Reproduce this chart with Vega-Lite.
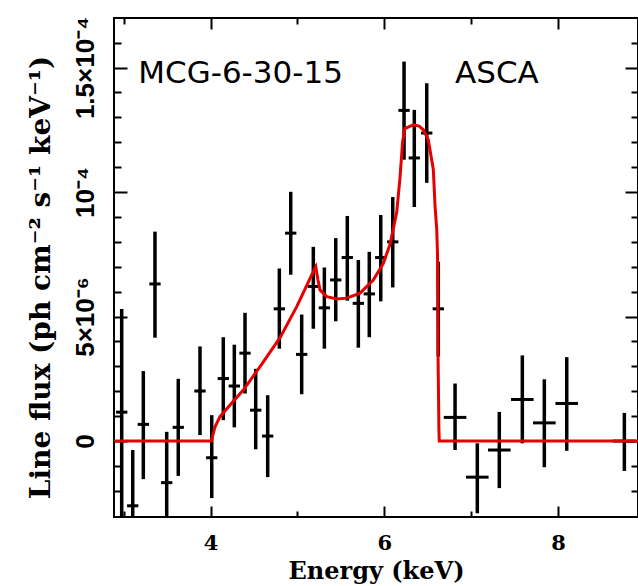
{
  "$schema": "https://vega.github.io/schema/vega-lite/v6.json",
  "width": 524,
  "height": 499,
  "autosize": {"type": "none"},
  "padding": {"left": 114, "top": 18, "right": 0, "bottom": 69},
  "background": "white",
  "config": {
    "view": {"stroke": "black", "strokeWidth": 2},
    "axis": {"grid": false, "domain": false, "tickColor": "black", "tickWidth": 2, "labelColor": "black", "titleColor": "black"}
  },
  "datasets": {
    "pts": [
      {"E": 2.978, "Elo": 2.913, "Ehi": 3.043, "flux": 1.16e-5, "lo": -3.6e-5, "hi": 5.3e-5},
      {"E": 3.105, "Elo": 3.04, "Ehi": 3.17, "flux": -2.6e-5, "lo": -4.9e-5, "hi": -0.36e-5},
      {"E": 3.227, "Elo": 3.162, "Ehi": 3.292, "flux": 0.67e-5, "lo": -1.53e-5, "hi": 2.81e-5},
      {"E": 3.361, "Elo": 3.296, "Ehi": 3.426, "flux": 6.31e-5, "lo": 4.15e-5, "hi": 8.41e-5},
      {"E": 3.496, "Elo": 3.431, "Ehi": 3.561, "flux": -1.67e-5, "lo": -3.7e-5, "hi": 0.37e-5},
      {"E": 3.629, "Elo": 3.564, "Ehi": 3.694, "flux": 0.55e-5, "lo": -1.4e-5, "hi": 2.5e-5},
      {"E": 3.879, "Elo": 3.814, "Ehi": 3.944, "flux": 2.01e-5, "lo": 0.24e-5, "hi": 3.8e-5},
      {"E": 4.014, "Elo": 3.949, "Ehi": 4.079, "flux": -0.67e-5, "lo": -2.29e-5, "hi": 1.04e-5},
      {"E": 4.147, "Elo": 4.082, "Ehi": 4.212, "flux": 2.51e-5, "lo": 0.84e-5, "hi": 4.17e-5},
      {"E": 4.274, "Elo": 4.209, "Ehi": 4.339, "flux": 2.21e-5, "lo": 0.55e-5, "hi": 3.87e-5},
      {"E": 4.397, "Elo": 4.332, "Ehi": 4.462, "flux": 3.53e-5, "lo": 1.91e-5, "hi": 5.15e-5},
      {"E": 4.52, "Elo": 4.455, "Ehi": 4.585, "flux": 1.24e-5, "lo": -0.33e-5, "hi": 2.9e-5},
      {"E": 4.658, "Elo": 4.593, "Ehi": 4.723, "flux": 0.2e-5, "lo": -1.45e-5, "hi": 1.84e-5},
      {"E": 4.792, "Elo": 4.727, "Ehi": 4.857, "flux": 5.31e-5, "lo": 3.71e-5, "hi": 6.93e-5},
      {"E": 4.923, "Elo": 4.858, "Ehi": 4.988, "flux": 8.35e-5, "lo": 6.68e-5, "hi": 10.01e-5},
      {"E": 5.049, "Elo": 4.984, "Ehi": 5.114, "flux": 3.48e-5, "lo": 1.88e-5, "hi": 5.08e-5},
      {"E": 5.183, "Elo": 5.118, "Ehi": 5.248, "flux": 6.21e-5, "lo": 4.51e-5, "hi": 7.8e-5},
      {"E": 5.31, "Elo": 5.245, "Ehi": 5.375, "flux": 5.35e-5, "lo": 3.71e-5, "hi": 6.97e-5},
      {"E": 5.441, "Elo": 5.376, "Ehi": 5.506, "flux": 6.47e-5, "lo": 4.81e-5, "hi": 8.15e-5},
      {"E": 5.574, "Elo": 5.509, "Ehi": 5.639, "flux": 7.37e-5, "lo": 5.64e-5, "hi": 9.04e-5},
      {"E": 5.701, "Elo": 5.636, "Ehi": 5.766, "flux": 5.53e-5, "lo": 3.75e-5, "hi": 7.27e-5},
      {"E": 5.827, "Elo": 5.762, "Ehi": 5.892, "flux": 5.91e-5, "lo": 4.17e-5, "hi": 7.6e-5},
      {"E": 5.959, "Elo": 5.894, "Ehi": 6.024, "flux": 7.37e-5, "lo": 5.61e-5, "hi": 9.08e-5},
      {"E": 6.097, "Elo": 6.032, "Ehi": 6.162, "flux": 8.0e-5, "lo": 6.17e-5, "hi": 9.8e-5},
      {"E": 6.227, "Elo": 6.162, "Ehi": 6.292, "flux": 1.328e-4, "lo": 1.13e-4, "hi": 1.524e-4},
      {"E": 6.345, "Elo": 6.28, "Ehi": 6.41, "flux": 1.137e-4, "lo": 9.4e-5, "hi": 1.33e-4},
      {"E": 6.488, "Elo": 6.423, "Ehi": 6.553, "flux": 1.237e-4, "lo": 1.037e-4, "hi": 1.437e-4},
      {"E": 6.621, "Elo": 6.556, "Ehi": 6.686, "flux": 5.31e-5, "lo": 3.4e-5, "hi": 7.2e-5},
      {"E": 6.814, "Elo": 6.684, "Ehi": 6.944, "flux": 0.95e-5, "lo": -0.36e-5, "hi": 2.31e-5},
      {"E": 7.07, "Elo": 6.94, "Ehi": 7.2, "flux": -1.45e-5, "lo": -2.9e-5, "hi": -0.09e-5},
      {"E": 7.323, "Elo": 7.193, "Ehi": 7.453, "flux": -0.36e-5, "lo": -1.89e-5, "hi": 1.17e-5},
      {"E": 7.588, "Elo": 7.458, "Ehi": 7.718, "flux": 1.67e-5, "lo": -0.09e-5, "hi": 3.44e-5},
      {"E": 7.841, "Elo": 7.711, "Ehi": 7.971, "flux": 0.73e-5, "lo": -1.05e-5, "hi": 2.48e-5},
      {"E": 8.099, "Elo": 7.969, "Ehi": 8.229, "flux": 1.51e-5, "lo": -0.39e-5, "hi": 3.37e-5},
      {"E": 8.762, "Elo": 8.632, "Ehi": 8.892, "flux": 0, "lo": -1.2e-5, "hi": 1.13e-5}
    ],
    "model": [
      {"E": 2.85, "flux": 0},
      {"E": 4.01, "flux": 0},
      {"E": 4.05, "flux": 0.55e-5},
      {"E": 4.109, "flux": 0.98e-5},
      {"E": 4.25, "flux": 1.55e-5},
      {"E": 4.377, "flux": 2.05e-5},
      {"E": 4.57, "flux": 2.99e-5},
      {"E": 4.8, "flux": 4.15e-5},
      {"E": 4.992, "flux": 5.4e-5},
      {"E": 5.183, "flux": 6.81e-5},
      {"E": 5.211, "flux": 7.0e-5},
      {"E": 5.235, "flux": 6.5e-5},
      {"E": 5.26, "flux": 6.07e-5},
      {"E": 5.337, "flux": 5.8e-5},
      {"E": 5.452, "flux": 5.71e-5},
      {"E": 5.567, "flux": 5.74e-5},
      {"E": 5.72, "flux": 5.94e-5},
      {"E": 5.873, "flux": 6.47e-5},
      {"E": 5.989, "flux": 7.14e-5},
      {"E": 6.066, "flux": 7.9e-5},
      {"E": 6.143, "flux": 9.2e-5},
      {"E": 6.181, "flux": 1.06e-4},
      {"E": 6.21, "flux": 1.2e-4},
      {"E": 6.235, "flux": 1.255e-4},
      {"E": 6.3, "flux": 1.265e-4},
      {"E": 6.334, "flux": 1.27e-4},
      {"E": 6.4, "flux": 1.265e-4},
      {"E": 6.449, "flux": 1.25e-4},
      {"E": 6.506, "flux": 1.21e-4},
      {"E": 6.564, "flux": 1.09e-4},
      {"E": 6.584, "flux": 9.42e-5},
      {"E": 6.603, "flux": 8.5e-5},
      {"E": 6.612, "flux": 7.5e-5},
      {"E": 6.618, "flux": 3.5e-5},
      {"E": 6.628, "flux": 0.5e-5},
      {"E": 6.632, "flux": 0},
      {"E": 9.0, "flux": 0}
    ]
  },
  "layer": [
    {
      "data": {"name": "pts"},
      "mark": {"type": "rule", "color": "black", "strokeWidth": 3.5, "clip": true},
      "encoding": {
        "x": {
          "field": "E", "type": "quantitative",
          "scale": {"domain": [2.8895, 8.919], "nice": false, "zero": false},
          "axis": {
            "orient": "bottom", "values": [4, 6, 8], "ticks": false, "labelFlush": false,
            "labelFont": "DejaVu Serif", "labelFontWeight": "bold", "labelFontSize": 21, "labelPadding": 15,
            "title": "Energy (keV)", "titleFont": "DejaVu Serif", "titleFontWeight": "bold", "titleFontSize": 24, "titlePadding": 6
          }
        },
        "y": {
          "field": "lo", "type": "quantitative",
          "scale": {"domain": [-3.05e-5, 1.699e-4], "nice": false, "zero": false},
          "axis": {
            "orient": "left", "values": [0, 5e-5, 1e-4, 1.5e-4], "ticks": false, "labelFlush": false,
            "labelExpr": "datum.value == 0 ? '0' : (datum.value < 7e-5 ? '5×10⁻⁶' : (datum.value < 1.2e-4 ? '10⁻⁴' : '1.5×10⁻⁴'))",
            "labelAngle": -90, "labelAlign": "center", "labelBaseline": "alphabetic", "labelPadding": 21,
            "labelFont": "Liberation Sans", "labelFontWeight": "bold", "labelFontSize": 26,
            "title": "Line flux (ph cm⁻² s⁻¹ keV⁻¹)", "titleFont": "DejaVu Serif", "titleFontWeight": "bold", "titleFontSize": 28, "titlePadding": 17, "titleY": 259
          }
        },
        "y2": {"field": "hi"}
      }
    },
    {
      "data": {"name": "pts"},
      "mark": {"type": "rule", "color": "black", "strokeWidth": 3, "clip": true},
      "encoding": {
        "x": {
          "field": "Elo", "type": "quantitative",
          "scale": {"domain": [2.8895, 8.919], "nice": false, "zero": false},
          "axis": {"orient": "top", "values": [4, 6, 8], "labels": false, "title": null, "tickSize": -11}
        },
        "x2": {"field": "Ehi"},
        "y": {
          "field": "flux", "type": "quantitative",
          "scale": {"domain": [-3.05e-5, 1.699e-4], "nice": false, "zero": false},
          "axis": {"orient": "right", "values": [0, 5e-5, 1e-4, 1.5e-4], "labels": false, "title": null, "tickSize": -13}
        }
      }
    },
    {
      "data": {"name": "pts"},
      "mark": {"type": "point", "shape": "diamond", "filled": true, "color": "black", "size": 30, "opacity": 1, "clip": true},
      "encoding": {
        "x": {
          "field": "E", "type": "quantitative",
          "scale": {"domain": [2.8895, 8.919], "nice": false, "zero": false},
          "axis": {"orient": "top", "values": [3, 5, 7, 9], "labels": false, "title": null, "tickSize": -6}
        },
        "y": {
          "field": "flux", "type": "quantitative",
          "scale": {"domain": [-3.05e-5, 1.699e-4], "nice": false, "zero": false},
          "axis": {"orient": "right", "values": [-2e-5, -1e-5, 1e-5, 2e-5, 3e-5, 4e-5, 6e-5, 7e-5, 8e-5, 9e-5, 1.1e-4, 1.2e-4, 1.3e-4, 1.4e-4, 1.6e-4], "labels": false, "title": null, "tickSize": -7}
        }
      }
    },
    {
      "data": {"name": "model"},
      "mark": {"type": "line", "color": "#e60000", "strokeWidth": 3, "clip": true, "interpolate": "linear"},
      "encoding": {
        "x": {
          "field": "E", "type": "quantitative",
          "scale": {"domain": [2.8895, 8.919], "nice": false, "zero": false},
          "axis": {"orient": "bottom", "values": [4, 6, 8], "labels": false, "title": null, "tickSize": -11}
        },
        "y": {
          "field": "flux", "type": "quantitative",
          "scale": {"domain": [-3.05e-5, 1.699e-4], "nice": false, "zero": false},
          "axis": {"orient": "left", "values": [0, 5e-5, 1e-4, 1.5e-4], "labels": false, "title": null, "tickSize": -13}
        }
      }
    },
    {
      "data": {"values": [{"label": "MCG-6-30-15"}]},
      "mark": {"type": "text", "align": "left", "baseline": "alphabetic", "font": "DejaVu Sans", "fontSize": 31, "color": "black"},
      "encoding": {
        "text": {"field": "label"},
        "x": {
          "datum": 3.169, "type": "quantitative",
          "scale": {"domain": [2.8895, 8.919], "nice": false, "zero": false},
          "axis": {"orient": "bottom", "values": [3, 5, 7, 9], "labels": false, "title": null, "tickSize": -6}
        },
        "y": {
          "datum": 1.437e-4, "type": "quantitative",
          "scale": {"domain": [-3.05e-5, 1.699e-4], "nice": false, "zero": false},
          "axis": {"orient": "left", "values": [-2e-5, -1e-5, 1e-5, 2e-5, 3e-5, 4e-5, 6e-5, 7e-5, 8e-5, 9e-5, 1.1e-4, 1.2e-4, 1.3e-4, 1.4e-4, 1.6e-4], "labels": false, "title": null, "tickSize": -7}
        }
      }
    },
    {
      "data": {"values": [{"label": "ASCA"}]},
      "mark": {"type": "text", "align": "left", "baseline": "alphabetic", "font": "DejaVu Sans", "fontSize": 31, "color": "black"},
      "encoding": {
        "text": {"field": "label"},
        "x": {"datum": 6.814, "type": "quantitative", "axis": null},
        "y": {"datum": 1.437e-4, "type": "quantitative", "axis": null}
      }
    }
  ]
}
